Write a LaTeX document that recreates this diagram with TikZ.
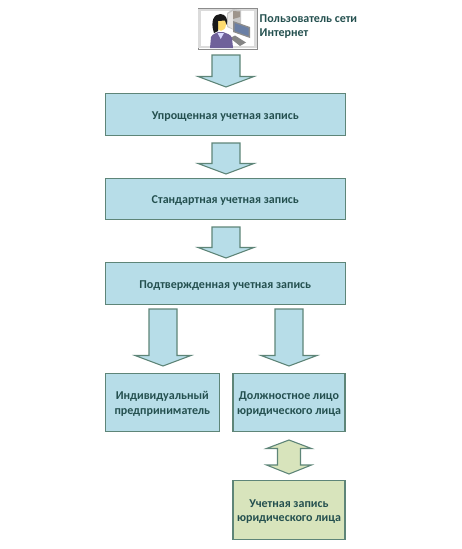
\documentclass[tikz,border=0pt]{standalone}
\usepackage{fontspec}
\setmainfont{Carlito}
\usetikzlibrary{calc}
\definecolor{boxblue}{HTML}{B7DDE8}
\definecolor{boxgreen}{HTML}{D8E4BC}
\definecolor{edgecol}{HTML}{5E8578}
\definecolor{txtcol}{HTML}{24504F}
\newcommand{\twolines}[2]{\raisebox{-4.5pt}[0pt][0pt]{\begin{tabular}{@{}c@{}}#1\\#2\end{tabular}}}
\tikzset{
  x=1pt,y=-1pt,
  flowbox/.style={draw=edgecol,line width=1.1pt,fill=boxblue,inner sep=0pt,align=center,font=\bfseries\fontsize{12}{14.5}\selectfont,text=txtcol},
  singleline/.style={flowbox,execute at begin node={\rule{0pt}{11pt}}},
  greenbox/.style={flowbox,fill=boxgreen},
  blockarrow/.style={draw=edgecol,line width=1.1pt,fill=boxblue,line join=miter},
  greenarrow/.style={blockarrow,fill=boxgreen},
  caption/.style={align=left,anchor=north west,inner sep=0pt,font=\bfseries\fontsize{12}{14}\selectfont,text=txtcol}
}
\newcommand{\downblock}[2]{%
  \draw[blockarrow] ($(#1)+(-14,0)$) -- ($(#1)+(14,0)$) -- ($(#2)+(14,-10.5)$) -- ($(#2)+(28,-10.5)$) -- (#2) -- ($(#2)+(-28,-10.5)$) -- ($(#2)+(-14,-10.5)$) -- cycle;}
\begin{document}
\begin{tikzpicture}
\useasboundingbox (0,0) rectangle (462,549);
% boxes
\node[singleline,minimum width=239.5pt,minimum height=41.5pt] (simple) at (225.3,114.5) {Упрощенная учетная запись};
\node[singleline,minimum width=239.5pt,minimum height=41.5pt] (standard) at (225.3,199) {Стандартная учетная запись};
\node[singleline,minimum width=239.5pt,minimum height=41.5pt] (confirmed) at (225.3,283.5) {Подтвержденная учетная запись};
\node[flowbox,minimum width=113.5pt,minimum height=58.5pt] (ip) at (162.3,402.5) {\twolines{Индивидуальный}{предприниматель}};
\node[flowbox,minimum width=112pt,minimum height=58.5pt] (official) at (289,402.5) {\twolines{Должностное лицо}{юридического лица}};
\node[greenbox,minimum width=112pt,minimum height=58.5pt] (legal) at (289,510) {\twolines{Учетная запись}{юридического лица}};
% icon
\node[draw=black!45,fill=white,line width=0.8pt,minimum width=59pt,minimum height=41pt,inner sep=0pt] (icon) at (227.5,28.5) {};
\draw[black!14,line width=2.4pt] (199.6,10) rectangle (255.4,47);
\node[caption] (user) at (259.5,14.5) {Пользователь сети\\Интернет};
% tower
\fill[black!22] (227,13) -- (233,9) -- (241,10) -- (241,28) -- (234,30) -- (227,27) -- cycle;
\fill[orange!12!black!10] (228,14) -- (233,11) -- (233,29) -- (228,26) -- cycle;
\fill[orange!15!black!45] (233,11) -- (240,11.5) -- (240,17) -- (233,19) -- cycle;
% monitor
\fill[black!45] (233,21) -- (250,27) -- (250,38) -- (233,32) -- cycle;
\fill[cyan!50!blue!60!black!75] (234.5,23) -- (248.5,28) -- (248.5,36) -- (234.5,31) -- cycle;
% keyboard
\fill[black!48] (230,38) -- (235,35.5) -- (246,42.5) -- (240,46) -- cycle;
% person
\fill[violet!40!blue!45!black!62] (210,48) -- (211,37) .. controls (213,33.5) and (216,33.5) .. (218,32) -- (223,32) .. controls (226,33.5) and (231,34) .. (232,38) -- (233,48) -- cycle;
\fill[white!85!blue] (217.5,33) -- (224,33) -- (220.7,39) -- cycle;
\fill[yellow!55!orange!55!white] (216,24) .. controls (216,33) and (226,33) .. (226,24) -- (226,20) -- (216,20) -- cycle;
\fill[black!90] (214,33) .. controls (210,21) and (214,14) .. (220.5,14) .. controls (226,14) and (228.5,20) .. (226.5,25) -- (225,20.5) -- (218,21) -- (218,31) -- cycle;
% arrows
\coordinate (a1s) at (226,55);  \coordinate (a1t) at (226,87);
\downblock{a1s}{a1t}
\coordinate (a2s) at (226,143); \coordinate (a2t) at (226,174);
\downblock{a2s}{a2t}
\coordinate (a3s) at (226,227); \coordinate (a3t) at (226,258);
\downblock{a3s}{a3t}
\coordinate (a4s) at (163,309); \coordinate (a4t) at (163,366);
\downblock{a4s}{a4t}
\coordinate (a5s) at (289,309); \coordinate (a5t) at (289,366);
\downblock{a5s}{a5t}
\coordinate (d1) at (289,440); \coordinate (d2) at (289,474);
\draw[greenarrow] (d1) -- ($(d1)+(22.5,8.5)$) -- ($(d1)+(11.5,8.5)$) -- ($(d2)+(11.5,-9)$) -- ($(d2)+(22.5,-9)$) -- (d2) -- ($(d2)+(-22.5,-9)$) -- ($(d2)+(-11.5,-9)$) -- ($(d1)+(-11.5,8.5)$) -- ($(d1)+(-22.5,8.5)$) -- cycle;
\end{tikzpicture}
\end{document}
